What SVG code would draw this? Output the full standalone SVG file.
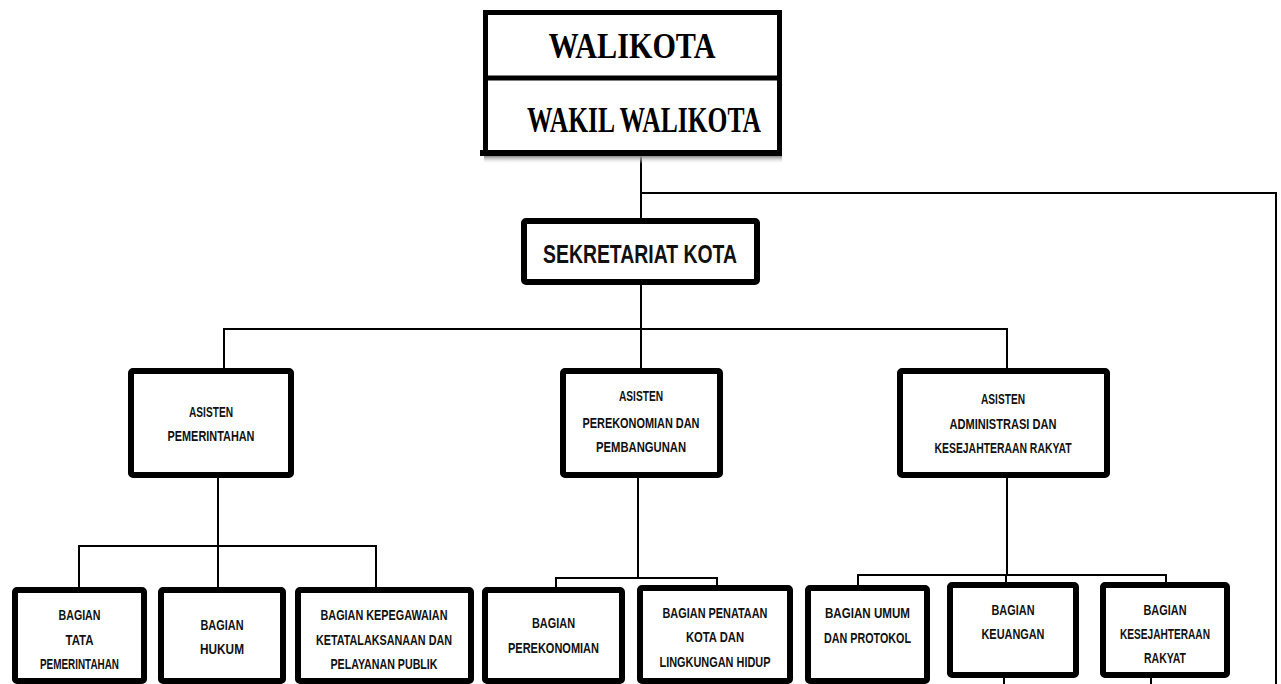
<svg xmlns="http://www.w3.org/2000/svg" width="1281" height="684" viewBox="0 0 1281 684">
<defs>
<style>
.box{fill:#fff;stroke:#000;stroke-width:6}
.ln{fill:none;stroke:#000;stroke-width:2}
.t{font-family:"Liberation Sans",Arial,sans-serif;font-weight:bold;font-size:15.5px;fill:#111;text-anchor:middle}
.s{font-family:"Liberation Serif","Times New Roman",serif;font-weight:bold;font-size:36px;fill:#000;text-anchor:middle}
</style>
<linearGradient id="sh" x1="0" y1="0" x2="0" y2="1">
<stop offset="0" stop-color="#888"/>
<stop offset="1" stop-color="#fff" stop-opacity="0"/>
</linearGradient>
</defs>
<rect width="1281" height="684" fill="#fff"/>
<g id="connectors">
<path class="ln" d="M641 156V218M641 193H1276V684"/>
<path class="ln" d="M641 285V329M224 368V329H1007V368M641 329V368"/>
<path class="ln" d="M218 478V546M79 587V546H376V587M218 546V587"/>
<path class="ln" d="M638 478V578M556 587V578H717V585"/>
<path class="ln" d="M1007 478V575M858 585V575H1166V582M1006 575V582"/>
<path class="ln" d="M1004 678V684M1151 678V684"/>
</g>
<g id="walikota">
<rect x="484" y="156" width="298" height="8" fill="url(#sh)"/>
<rect x="485.5" y="12.5" width="294" height="140" fill="#fff" stroke="#000" stroke-width="5"/>
<line x1="483" y1="78" x2="782" y2="78" stroke="#000" stroke-width="5"/>
<line x1="480" y1="153" x2="782" y2="153" stroke="#000" stroke-width="6"/>
<text class="s" x="632" y="58" textLength="167" lengthAdjust="spacingAndGlyphs">WALIKOTA</text>
<text class="s" x="644" y="132" textLength="234" lengthAdjust="spacingAndGlyphs">WAKIL WALIKOTA</text>
</g>
<g id="sekretariat">
<rect class="box" x="524" y="221" width="233" height="61" rx="2"/>
<text class="t" x="640" y="263" style="font-size:25px" textLength="194" lengthAdjust="spacingAndGlyphs">SEKRETARIAT KOTA</text>
</g>
<g id="asisten-pemerintahan">
<rect class="box" x="131" y="371" width="160" height="104" rx="2"/>
<text class="t" x="211" y="417" textLength="44" lengthAdjust="spacingAndGlyphs">ASISTEN</text>
<text class="t" x="211" y="441" textLength="87" lengthAdjust="spacingAndGlyphs">PEMERINTAHAN</text>
</g>
<g id="asisten-perekonomian">
<rect class="box" x="563" y="371" width="157" height="104" rx="2"/>
<text class="t" x="641" y="401" textLength="44" lengthAdjust="spacingAndGlyphs">ASISTEN</text>
<text class="t" x="641" y="428" textLength="117" lengthAdjust="spacingAndGlyphs">PEREKONOMIAN DAN</text>
<text class="t" x="641" y="452" textLength="90" lengthAdjust="spacingAndGlyphs">PEMBANGUNAN</text>
</g>
<g id="asisten-administrasi">
<rect class="box" x="900" y="371" width="207" height="104" rx="2"/>
<text class="t" x="1003" y="404" textLength="44" lengthAdjust="spacingAndGlyphs">ASISTEN</text>
<text class="t" x="1003" y="429" textLength="107" lengthAdjust="spacingAndGlyphs">ADMINISTRASI DAN</text>
<text class="t" x="1003" y="453" textLength="137" lengthAdjust="spacingAndGlyphs">KESEJAHTERAAN RAKYAT</text>
</g>
<g id="bagian-tata-pemerintahan">
<rect class="box" x="15" y="590" width="129" height="91" rx="2"/>
<text class="t" x="79.5" y="620" textLength="42" lengthAdjust="spacingAndGlyphs">BAGIAN</text>
<text class="t" x="79.5" y="645" textLength="28" lengthAdjust="spacingAndGlyphs">TATA</text>
<text class="t" x="79.5" y="669" textLength="79" lengthAdjust="spacingAndGlyphs">PEMERINTAHAN</text>
</g>
<g id="bagian-hukum">
<rect class="box" x="161" y="590" width="122" height="91" rx="2"/>
<text class="t" x="222" y="630" textLength="43" lengthAdjust="spacingAndGlyphs">BAGIAN</text>
<text class="t" x="222" y="654" textLength="44" lengthAdjust="spacingAndGlyphs">HUKUM</text>
</g>
<g id="bagian-kepegawaian">
<rect class="box" x="298" y="590" width="173" height="91" rx="2"/>
<text class="t" x="384" y="620" textLength="127" lengthAdjust="spacingAndGlyphs">BAGIAN KEPEGAWAIAN</text>
<text class="t" x="384" y="645" textLength="136" lengthAdjust="spacingAndGlyphs">KETATALAKSANAAN DAN</text>
<text class="t" x="384" y="669" textLength="107" lengthAdjust="spacingAndGlyphs">PELAYANAN PUBLIK</text>
</g>
<g id="bagian-perekonomian">
<rect class="box" x="485" y="590" width="137" height="91" rx="2"/>
<text class="t" x="553.5" y="628" textLength="43" lengthAdjust="spacingAndGlyphs">BAGIAN</text>
<text class="t" x="553.5" y="653" textLength="91" lengthAdjust="spacingAndGlyphs">PEREKONOMIAN</text>
</g>
<g id="bagian-penataan">
<rect class="box" x="640" y="588" width="150" height="93" rx="2"/>
<text class="t" x="715" y="618" textLength="105" lengthAdjust="spacingAndGlyphs">BAGIAN PENATAAN</text>
<text class="t" x="715" y="642" textLength="58" lengthAdjust="spacingAndGlyphs">KOTA DAN</text>
<text class="t" x="715" y="667" textLength="111" lengthAdjust="spacingAndGlyphs">LINGKUNGAN HIDUP</text>
</g>
<g id="bagian-umum">
<rect class="box" x="808" y="588" width="119" height="93" rx="2"/>
<text class="t" x="867.5" y="618" textLength="85" lengthAdjust="spacingAndGlyphs">BAGIAN UMUM</text>
<text class="t" x="867.5" y="643" textLength="87" lengthAdjust="spacingAndGlyphs">DAN PROTOKOL</text>
</g>
<g id="bagian-keuangan">
<rect class="box" x="950" y="585" width="126" height="90" rx="2"/>
<text class="t" x="1013" y="615" textLength="43" lengthAdjust="spacingAndGlyphs">BAGIAN</text>
<text class="t" x="1013" y="639" textLength="63" lengthAdjust="spacingAndGlyphs">KEUANGAN</text>
</g>
<g id="bagian-kesejahteraan">
<rect class="box" x="1103" y="585" width="124" height="90" rx="2"/>
<text class="t" x="1165" y="615" textLength="43" lengthAdjust="spacingAndGlyphs">BAGIAN</text>
<text class="t" x="1165" y="639" textLength="90" lengthAdjust="spacingAndGlyphs">KESEJAHTERAAN</text>
<text class="t" x="1165" y="663" textLength="42" lengthAdjust="spacingAndGlyphs">RAKYAT</text>
</g>
</svg>
